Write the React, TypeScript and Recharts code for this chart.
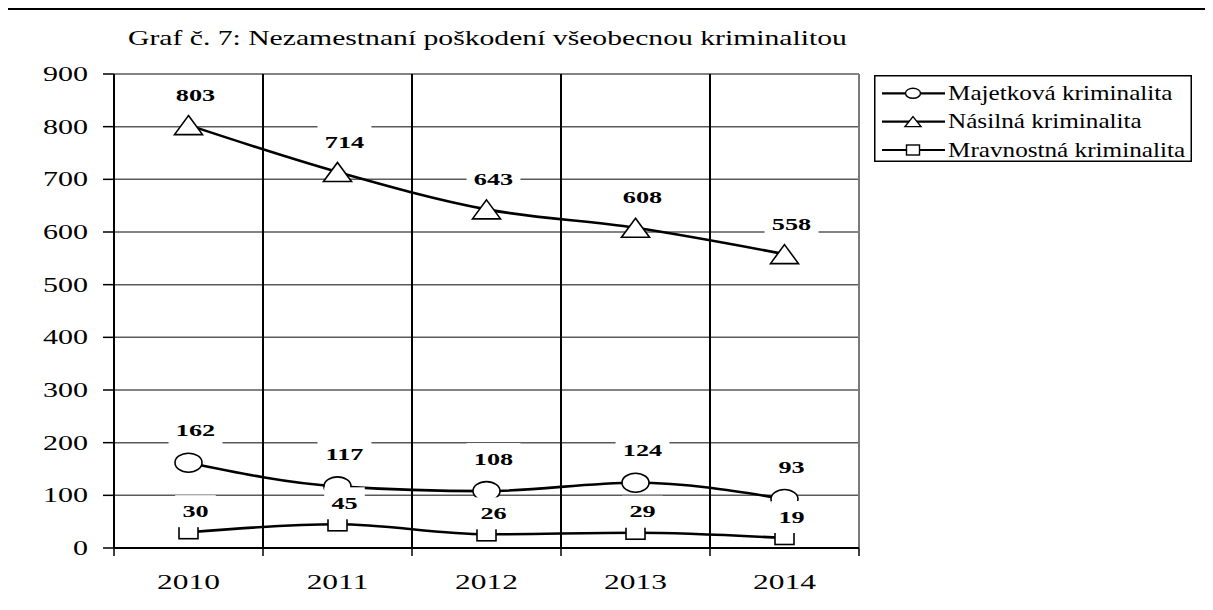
import React from "react"
import {
  LineChart, Line, XAxis, YAxis, CartesianGrid, ReferenceLine, LabelList, Legend,
} from "recharts"

const years = ["2010", "2011", "2012", "2013", "2014"]
const majetkova = [162, 117, 108, 124, 93]
const nasilna = [803, 714, 643, 608, 558]
const mravnostna = [30, 45, 26, 29, 19]
const yTicks = [0, 100, 200, 300, 400, 500, 600, 700, 800, 900]

const seriesOrder = ["maj", "nas", "mrav"]
const seriesNames: Record<string, string> = {
  maj: "Majetková kriminalita",
  nas: "Násilná kriminalita",
  mrav: "Mravnostná kriminalita",
}

const rows = years.map((year, i) => ({
  pos: i + 0.5,
  year,
  maj: majetkova[i],
  nas: nasilna[i],
  mrav: mravnostna[i],
}))
const centers = rows.map((r) => r.pos)
const edges = [...years.map((_, i) => i), years.length]

const FONT = "'Liberation Serif', 'Times New Roman', serif"

type Shape = "circle" | "triangle" | "square"
const shapeOf: Record<string, Shape> = { maj: "circle", nas: "triangle", mrav: "square" }

function Marker({ shape, cx, cy, big }: { shape: Shape; cx: number; cy: number; big: boolean }) {
  const sw = big ? 1.6 : 1.4
  if (shape === "circle") {
    const rx = big ? 13.5 : 7.5
    const ry = big ? 9.5 : 5
    return <ellipse cx={cx} cy={cy} rx={rx} ry={ry} fill="#fff" stroke="#000" strokeWidth={sw} />
  }
  if (shape === "triangle") {
    const w = big ? 28 : 16
    const h = big ? 19 : 10
    const pts = `${cx},${cy - h / 2} ${cx + w / 2},${cy + h / 2} ${cx - w / 2},${cy + h / 2}`
    return <polygon points={pts} fill="#fff" stroke="#000" strokeWidth={sw} />
  }
  const w = big ? 19 : 13
  const h = big ? 13 : 10
  return <rect x={cx - w / 2} y={cy - h / 2} width={w} height={h} fill="#fff" stroke="#000" strokeWidth={sw} />
}

const makeDot = (shape: Shape) => (p: any) => (
  <Marker key={`dot-${shape}-${p.index}`} shape={shape} cx={p.cx} cy={p.cy} big />
)

const makeLabel = (lift: number) => (p: any) => {
  const { x, y, value, index } = p
  if (x == null || y == null) return null
  const cx = x + 7
  const cy = y - lift
  const w = String(value).length * 13.3 + 14
  return (
    <g key={`lbl-${lift}-${index}`}>
      <rect x={cx - w / 2} y={cy - 16} width={w} height={32} fill="#fff" />
      <text
        transform={`translate(${cx},${cy}) scale(1.64,1)`}
        textAnchor="middle"
        dy="0.35em"
        fontFamily={FONT}
        fontWeight="bold"
        fontSize={16}
        fill="#000"
      >
        {value}
      </text>
    </g>
  )
}

function YTick({ x, y, payload }: any) {
  return (
    <text
      transform={`translate(${x},${y}) scale(1.5,1)`}
      textAnchor="end"
      dy="0.35em"
      fontFamily={FONT}
      fontSize={20}
      fill="#000"
    >
      {payload.value}
    </text>
  )
}

function XTick({ x, y, payload }: any) {
  const row = rows.find((r) => r.pos === payload.value)
  return (
    <text
      transform={`translate(${x},${y}) scale(1.43,1)`}
      textAnchor="middle"
      dy="0.35em"
      fontFamily={FONT}
      fontSize={22}
      fill="#000"
    >
      {row ? row.year : ""}
    </text>
  )
}

function LegendBox({ payload }: any) {
  const items = [...((payload || []) as any[])].sort(
    (a, b) => seriesOrder.indexOf(String(a.dataKey)) - seriesOrder.indexOf(String(b.dataKey)),
  )
  return (
    <svg width={318} height={87} style={{ display: "block" }}>
      <rect x={0.75} y={0.75} width={316.5} height={85.5} fill="#fff" stroke="#000" strokeWidth={1.5} />
      {items.map((it, i) => {
        const cy = 18.3 + i * 28.35
        const key = String(it.dataKey)
        return (
          <g key={key}>
            <line x1={8} x2={71} y1={cy} y2={cy} stroke="#000" strokeWidth={2.2} />
            <Marker shape={shapeOf[key]} cx={39} cy={cy} big={false} />
            <text
              transform={`translate(74,${cy}) scale(1.26,1)`}
              dy="0.33em"
              fontFamily={FONT}
              fontSize={20}
              fill="#000"
            >
              {it.value}
            </text>
          </g>
        )
      })}
    </svg>
  )
}

export default function App() {
  return (
    <div
      style={{
        position: "relative",
        marginLeft: -2,
        width: 1207,
        height: 600,
        borderTop: "2px solid #000",
        borderLeft: "2px solid #000",
        background: "#fff",
      }}
    >
      <style>{`body{overflow:hidden;background:#fff}`}</style>
      <svg width={900} height={60} style={{ position: "absolute", left: 0, top: 0 }}>
        <text
          transform="translate(120,34.5) scale(1.38,1)"
          fontFamily={FONT}
          fontSize={21.5}
          fill="#000"
        >
          Graf č. 7: Nezamestnaní poškodení všeobecnou kriminalitou
        </text>
      </svg>
      <LineChart
        width={1200}
        height={598}
        data={rows}
        margin={{ top: 64, right: 349, left: 0, bottom: 20 }}
      >
        <CartesianGrid vertical={false} stroke="#5a5a5a" strokeWidth={1.5} />
        <XAxis
          dataKey="pos"
          type="number"
          domain={[0, years.length]}
          ticks={centers}
          tick={<XTick />}
          tickLine={false}
          tickSize={0}
          tickMargin={33}
          height={40}
          axisLine={{ stroke: "#000", strokeWidth: 2 }}
          interval={0}
        />
        <YAxis
          domain={[0, 900]}
          ticks={yTicks}
          width={106}
          tick={<YTick />}
          tickSize={11}
          tickMargin={15}
          tickLine={{ stroke: "#000", strokeWidth: 1.5 }}
          axisLine={{ stroke: "#000", strokeWidth: 2 }}
          interval={0}
        />
        {edges.slice(1, -1).map((e) => (
          <ReferenceLine key={`v${e}`} x={e} stroke="#000" strokeWidth={2} />
        ))}
        <ReferenceLine x={years.length} stroke="#7a7a7a" strokeWidth={2} />
        {edges.map((e) => (
          <ReferenceLine
            key={`t${e}`}
            segment={[{ x: e, y: 0 }, { x: e, y: -15 }]}
            stroke="#000"
            strokeWidth={1.5}
            ifOverflow="visible"
          />
        ))}
        <Legend
          content={<LegendBox />}
          layout="horizontal"
          verticalAlign="middle"
          align="center"
          wrapperStyle={{ left: 866, top: 65, width: 318, height: 87 }}
        />
        <Line
          dataKey="maj"
          name={seriesNames.maj}
          type="monotone"
          stroke="#000"
          strokeWidth={2.6}
          dot={makeDot("circle")}
          activeDot={false}
          isAnimationActive={false}
        >
          <LabelList dataKey="maj" content={makeLabel(32)} />
        </Line>
        <Line
          dataKey="nas"
          name={seriesNames.nas}
          type="monotone"
          stroke="#000"
          strokeWidth={2.6}
          dot={makeDot("triangle")}
          activeDot={false}
          isAnimationActive={false}
        >
          <LabelList dataKey="nas" content={makeLabel(30)} />
        </Line>
        <Line
          dataKey="mrav"
          name={seriesNames.mrav}
          type="monotone"
          stroke="#000"
          strokeWidth={2.6}
          dot={makeDot("square")}
          activeDot={false}
          isAnimationActive={false}
        >
          <LabelList dataKey="mrav" content={makeLabel(21)} />
        </Line>
      </LineChart>
    </div>
  )
}
